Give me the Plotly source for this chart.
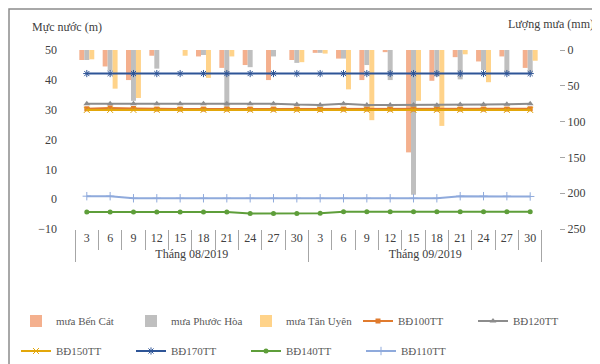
import plotly.graph_objects as go

# ---------------- data ----------------
months = ["Tháng 08/2019"] * 10 + ["Tháng 09/2019"] * 10
days = ["3", "6", "9", "12", "15", "18", "21", "24", "27", "30",
        "3", "6", "9", "12", "15", "18", "21", "24", "27", "30"]

rain_ben_cat = [14, 23, 42, 8, 0, 9, 25, 21, 42, 14, 4, 12, 42, 3, 143, 43, 10, 16, 9, 25]
rain_phuoc_hoa = [14, 29, 71, 26, 0, 7, 80, 24, 9, 18, 4, 12, 21, 42, 202, 37, 41, 28, 33, 33]
rain_tan_uyen = [13, 54, 67, 0, 8, 39, 9, 0, 0, 17, 5, 55, 98, 0, 71, 106, 6, 45, 0, 15]

bd100 = [30.3, 30.6, 30.4, 30.2, 30.2, 30.2, 30.2, 30.2, 30.2, 30.2,
         30.1, 30.2, 30.2, 30.2, 30.2, 30.2, 30.2, 30.2, 30.2, 30.3]
bd120 = [32.0, 32.0, 32.0, 32.0, 32.0, 32.0, 32.0, 32.0, 32.0, 31.7,
         31.6, 32.0, 31.6, 31.6, 31.6, 31.5, 31.7, 31.7, 31.8, 32.0]
bd150 = [29.9, 29.9, 29.9, 29.9, 29.9, 29.9, 29.9, 29.9, 29.9, 29.9,
         29.9, 29.9, 29.9, 29.9, 29.9, 29.9, 29.9, 29.9, 29.9, 29.9]
bd170 = [42.1, 42.1, 42.1, 42.1, 42.1, 42.1, 42.1, 42.1, 42.1, 42.1,
         42.1, 42.1, 42.1, 42.1, 42.1, 42.1, 42.1, 42.1, 42.1, 42.1]
bd140 = [-4.3, -4.3, -4.3, -4.3, -4.3, -4.3, -4.3, -4.8, -4.8, -4.8,
         -4.7, -4.2, -4.2, -4.2, -4.2, -4.2, -4.2, -4.2, -4.2, -4.2]
bd110 = [1.0, 1.0, 0.3, 0.3, 0.3, 0.3, 0.3, 0.3, 0.3, 0.3,
         0.3, 0.3, 0.3, 0.3, 0.3, 0.3, 1.0, 1.0, 1.0, 0.9]

level_ticks = [-10, 0, 10, 20, 30, 40, 50]
level_grid = [0, 10, 20, 30, 40, 50]
rain_ticks = [0, 50, 100, 150, 200, 250]

FONT = "Liberation Serif, Times New Roman, serif"
TXT = "#404040"
GRID = "#A6A6A6"

x = [months, days]
fig = go.Figure()

bar_specs = [("mưa Bến Cát", rain_ben_cat, "#F4B08E"),
             ("mưa Phước Hòa", rain_phuoc_hoa, "#BFBFBF"),
             ("mưa Tân Uyên", rain_tan_uyen, "#FFD38A")]
for name, vals, col in bar_specs:
    fig.add_trace(go.Bar(x=x, y=vals, name=name, marker=dict(color=col, line=dict(width=0)),
                         yaxis="y", legend="legend"))

line_specs = [
    ("BĐ100TT", bd100, "#E07B2E", dict(symbol="square", size=5), "legend3"),
    ("BĐ120TT", bd120, "#8C8C8C", dict(symbol="triangle-up", size=6), "legend3"),
    ("BĐ150TT", bd150, "#E3A70A", dict(symbol="x-thin-open", size=6, line=dict(width=1, color="#E3A70A")), "legend2"),
    ("BĐ170TT", bd170, "#2E5597", dict(symbol="asterisk-open", size=6, line=dict(width=1, color="#2E5597")), "legend2"),
    ("BĐ140TT", bd140, "#5E9E3A", dict(symbol="circle", size=5), "legend2"),
    ("BĐ110TT", bd110, "#8FAADC", dict(symbol="cross-thin-open", size=6, line=dict(width=1, color="#8FAADC")), "legend2"),
]
for name, vals, col, mk, lg in line_specs:
    mk = dict(mk)
    mk.setdefault("color", col)
    fig.add_trace(go.Scatter(x=x, y=vals, name=name, mode="lines+markers",
                             line=dict(color=col, width=2), marker=mk,
                             yaxis="y2", legend=lg))

PL, PR, PT, PB = 50, 49, 42, 143
PW, PH = 600 - PL - PR, 364 - PT - PB


def px_x(p):
    return (p - PL) / PW


def px_y(p):
    return (364 - PB - p) / PH


legend_common = dict(orientation="h", xanchor="left", yanchor="middle",
                     entrywidth=70, entrywidthmode="pixels", traceorder="normal",
                     font=dict(family=FONT, size=11, color="#595959"), bgcolor="rgba(0,0,0,0)")

fig.update_layout(
    template="none",
    width=600, height=364,
    margin=dict(l=PL, r=PR, t=PT, b=PB, autoexpand=False),
    paper_bgcolor="white", plot_bgcolor="white",
    font=dict(family=FONT, size=12, color=TXT),
    barmode="group", bargap=0.36, bargroupgap=0,
    showlegend=True,
    xaxis=dict(type="multicategory", showgrid=False, showline=False, automargin=False,
               ticks="outside", tickson="boundaries", ticklen=20, tickcolor=GRID,
               showdividers=True, dividercolor=GRID, dividerwidth=1,
               tickfont=dict(family=FONT, size=12, color=TXT)),
    yaxis=dict(side="right", range=[250, 0], tickvals=rain_ticks, showgrid=False,
               automargin=False, showline=False,
               zeroline=False, ticks="outside", ticklen=5, tickcolor=GRID,
               tickfont=dict(family=FONT, size=12, color=TXT)),
    yaxis2=dict(overlaying="y", side="left", range=[-10, 50], tickvals=level_ticks,
                automargin=False, showline=False, ticks="",
                showgrid=False, zeroline=False,
                tickfont=dict(family=FONT, size=12, color=TXT)),
    yaxis3=dict(overlaying="y", side="left", range=[-10, 50], tickvals=level_grid,
                automargin=False, showline=False, ticks="", showticklabels=False,
                showgrid=True, gridcolor=GRID, gridwidth=1, zeroline=False),
    legend=dict(legend_common, x=px_x(8), y=px_y(313)),
    legend3=dict(legend_common, x=px_x(350), y=px_y(313)),
    legend2=dict(legend_common, x=px_x(8), y=px_y(343)),
    annotations=[
        dict(text="Mực nước (m)", xref="paper", yref="paper", x=px_x(22), y=px_y(19),
             xanchor="left", yanchor="middle", showarrow=False,
             font=dict(family=FONT, size=12, color=TXT)),
        dict(text="Lượng mưa (mm)", xref="paper", yref="paper", x=px_x(588), y=px_y(16),
             xanchor="right", yanchor="middle", showarrow=False,
             font=dict(family=FONT, size=12, color=TXT)),
    ],
    shapes=[dict(type="rect", xref="paper", yref="paper", x0=px_x(1), x1=px_x(598),
                 y0=px_y(362), y1=px_y(1), line=dict(color="#8C8C8C", width=1.5),
                 fillcolor="rgba(0,0,0,0)", layer="below")],
)

fig.write_html("out.html")
